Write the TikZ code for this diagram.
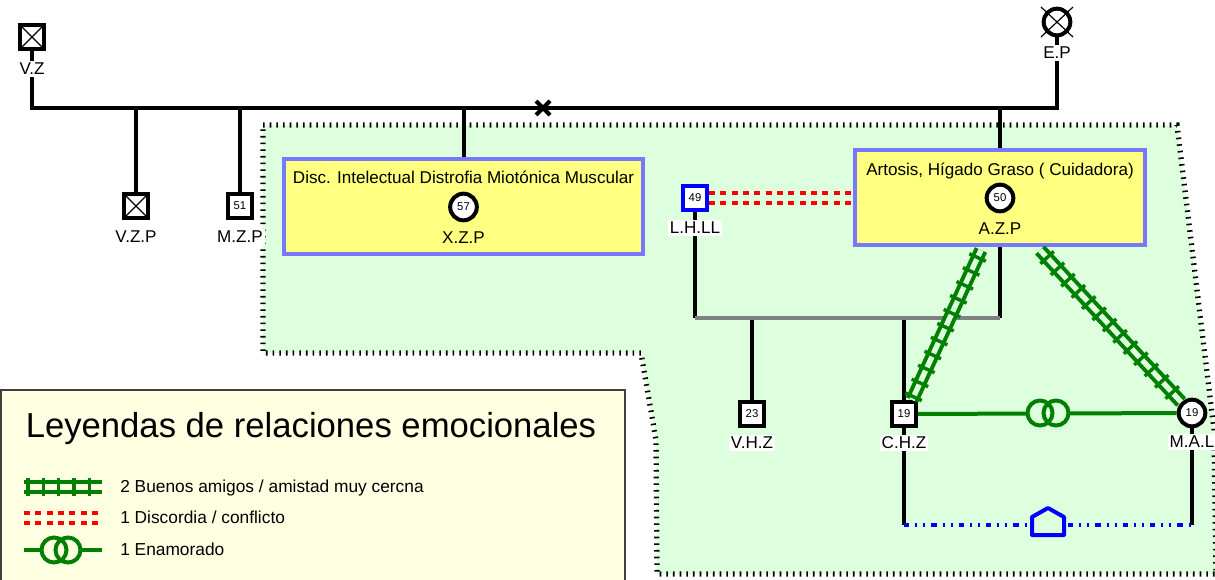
\documentclass[tikz,border=0pt]{standalone}
\usepackage{fontspec}
\setmainfont{Liberation Sans}
\usetikzlibrary{decorations.markings}

\definecolor{verdehogar}{RGB}{221,255,221}
\definecolor{amarilloley}{RGB}{255,255,225}
\definecolor{amarillodiag}{RGB}{255,255,128}
\definecolor{azuldiag}{RGB}{120,120,255}
\definecolor{verdeamigo}{RGB}{0,128,0}

\tikzset{
  varon/.style={draw, rectangle, line width=3pt, fill=white, minimum size=18pt, inner sep=0pt, font=\fontsize{8.5}{9}\selectfont},
  mujer/.style={draw, circle, line width=3pt, fill=white, minimum size=20pt, inner sep=0pt, font=\fontsize{8.5}{9}\selectfont},
  fallecido/.style={path picture={\draw[line width=0.9pt] (path picture bounding box.north west) -- (path picture bounding box.south east) (path picture bounding box.north east) -- (path picture bounding box.south west);}},
  nombre/.style={fill=white, inner sep=1.5pt, font=\fontsize{12.8}{14}\selectfont},
  diagbox/.style={draw=azuldiag, fill=amarillodiag, line width=3pt, inner sep=0pt},
  diagtexto/.style={inner sep=0pt, font=\fontsize{12.8}{14}\selectfont},
  linea/.style={line width=3pt},
  gris/.style={draw=gray, line width=3pt},
  hogar/.style={fill=verdehogar, draw=black, line width=4pt, dash pattern=on 1.2pt off 3.8pt},
  leyendacaja/.style={fill=amarilloley, draw=black!75, line width=1.5pt},
  amistad/.style={draw=verdeamigo, line width=10pt, postaction={draw=#1, line width=4pt},
    postaction={decorate, decoration={markings, mark=between positions 0.05 and 1 step 11.5pt with {\draw[verdeamigo, line width=2.6pt] (0,-6.8pt) -- (0,6.8pt);}}}},
  amistad/.default=verdehogar,
  conflicto/.style={draw=red, line width=10.5pt, dash pattern=on 4.5pt off 4pt, postaction={draw=#1, solid, line width=4.5pt}},
  conflicto/.default=verdehogar,
  amor/.style={draw=verdeamigo, line width=3pt},
  convive/.style={draw=blue, line width=3pt, dash pattern=on 4pt off 4.5pt on 1.5pt off 4.5pt on 1.5pt off 4.5pt},
  casa/.style={draw=blue, fill=verdehogar, line width=3pt, line join=round},
}

\begin{document}
\begin{tikzpicture}[x=0.75pt,y=0.75pt,yscale=-1,xscale=1]
\useasboundingbox (0,0) rectangle (1215,579);

%Shape: Polygon [hogar]
\draw[hogar] (263,125) -- (1177,125) -- (1214,430) -- (1216,574) -- (657,574) -- (656,440) -- (641,353) -- (263,353) -- cycle;

%Shape: Rectangle [leyenda]
\draw[leyendacaja] (1,390) rectangle (625,600);
% Text Node
\node[anchor=base, inner sep=0pt, font=\fontsize{26}{30}\selectfont] (leytitulo) at (311,437) {Leyendas de relaciones emocionales};
\coordinate (la1) at (24,487); \coordinate (la2) at (102,487);
\draw[amistad=amarilloley] (la1) -- (la2);
\node[anchor=base west, inner sep=0pt, font=\fontsize{13}{15}\selectfont] (leyamistad) at (120,492) {2 Buenos amigos / amistad muy cercna};
\coordinate (lc1) at (24,518); \coordinate (lc2) at (102,518);
\draw[conflicto=amarilloley] (lc1) -- (lc2);
\node[anchor=base west, inner sep=0pt, font=\fontsize{13}{15}\selectfont] (leyconflicto) at (120,523) {1 Discordia / conflicto};
\coordinate (le1) at (24,550); \coordinate (le2) at (102,550);
\draw[amor] (le1) -- (le2);
\filldraw[amor, fill=amarilloley] (54,550) circle (12.5) (68,550) circle (12.5);
\node[anchor=base west, inner sep=0pt, font=\fontsize{13}{15}\selectfont] (leyamor) at (120,555) {1 Enamorado};

%Persons
\node[varon, fallecido] (VZ) at (32,37) {};
\node[mujer] (EP) at (1057,22) {};
\draw[line width=0.9pt] ([shift={(-16,-15)}]EP.center) -- ([shift={(16,15)}]EP.center) ([shift={(16,-15)}]EP.center) -- ([shift={(-16,15)}]EP.center);
\node[varon, fallecido] (VZP) at (136,206) {};
\node[varon] (MZP) at (240,206) {51};
\node[diagbox, minimum width=269.25pt, minimum height=71.25pt] (XZPbox) at (463.5,206.5) {};
\node[diagtexto, anchor=base] (XZPdiag) at (463.5,183) {Disc. Intelectual Distrofia Miotónica Muscular};
\node[mujer] (XZP) at (463.5,207) {57};
\node[diagbox, minimum width=217.5pt, minimum height=71.25pt] (AZPbox) at (1000,197.5) {};
\node[diagtexto, anchor=base] (AZPdiag) at (1000,175) {Artosis, Hígado Graso ( Cuidadora)};
\node[mujer] (AZP) at (1000,198) {50};
\node[varon, draw=blue] (LHLL) at (695,198) {49};
\node[varon] (VHZ) at (752,414) {23};
\node[varon] (CHZ) at (904,414) {19};
\node[mujer] (MAL) at (1192,413) {19};

%Coordinates
\coordinate (vzfoot) at (32,108);
\coordinate (epfoot) at (1057,108);
\coordinate (divorcio) at (543,108);
\coordinate (hermanos) at (695,318);
\coordinate (azpizq) at (981,250);
\coordinate (azpder) at (1040,250);
\coordinate (chzfoot) at (904,525);
\coordinate (malfoot) at (1192,525);

%Family lines
\draw[linea] (VZ) -- (vzfoot) -- (epfoot) -- (EP);
\draw[linea] ([shift={(-7,-7)}]divorcio) -- ([shift={(7,7)}]divorcio) ([shift={(7,-7)}]divorcio) -- ([shift={(-7,7)}]divorcio);
\foreach \hijo in {VZP,MZP,XZPbox,AZPbox}
  \draw[linea] (\hijo) -- (\hijo |- vzfoot);
\draw[linea] (LHLL) -- (LHLL |- hermanos);
\draw[linea] (AZPbox) -- (AZPbox |- hermanos);
\draw[linea] (VHZ) -- (VHZ |- hermanos);
\draw[linea] (CHZ) -- (CHZ |- hermanos);
\draw[gris] (LHLL |- hermanos) -- (AZPbox |- hermanos);

%Relations
\draw[conflicto, shorten >=1.5pt] (LHLL) -- (LHLL -| AZPbox.west);
\draw[amistad] (azpizq) -- (CHZ.60);
\draw[amistad] (azpder) -- (MAL.135);
\draw[amor] (CHZ) -- (MAL);
\filldraw[amor, fill=verdehogar] (1040,413) circle (12.5) (1056,413) circle (12.5);
\draw[linea] (CHZ) -- (chzfoot);
\draw[linea] (MAL) -- (malfoot);
\draw[convive] (chzfoot) -- (malfoot);
\draw[casa] (1032,535) -- (1064,535) -- (1064,517) -- (1048,508) -- (1032,517) -- cycle;

% Text Node
\node[nombre] (VZnombre) at (32,69) {V.Z};
\node[nombre] (EPnombre) at (1057,53) {E.P};
\node[nombre] (VZPnombre) at (136,237) {V.Z.P};
\node[nombre] (MZPnombre) at (240,237) {M.Z.P};
\node[nombre, fill=none] (XZPnombre) at (463.5,237.5) {X.Z.P};
\node[nombre, fill=none] (AZPnombre) at (1000,228.5) {A.Z.P};
\node[nombre] (LHLLnombre) at (695,228) {L.H.LL};
\node[nombre] (VHZnombre) at (752,443) {V.H.Z};
\node[nombre] (CHZnombre) at (904,443) {C.H.Z};
\node[nombre] (MALnombre) at (1192,442) {M.A.L};

\end{tikzpicture}
\end{document}
